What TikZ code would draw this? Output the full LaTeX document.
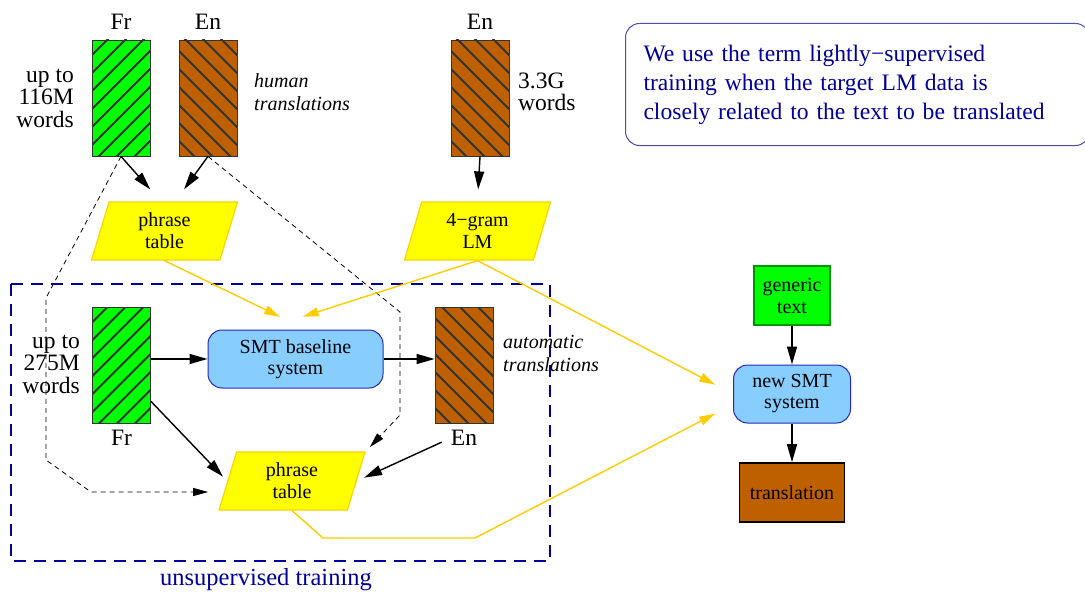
\documentclass[tikz,border=0pt]{standalone}
\usepackage{fontspec}
\setmainfont{Liberation Serif}
\usetikzlibrary{shapes.geometric}
\usetikzlibrary{arrows.meta}
\usetikzlibrary{calc}
\definecolor{crpgreen}{RGB}{0,255,0}
\definecolor{crpbrown}{RGB}{191,96,0}
\definecolor{ptyellow}{RGB}{255,255,0}
\definecolor{ptgold}{RGB}{255,210,0}
\definecolor{flowgold}{RGB}{255,204,0}
\definecolor{sysblue}{RGB}{135,206,255}
\definecolor{sysedge}{RGB}{40,40,190}
\definecolor{gtxedge}{RGB}{0,150,0}
\definecolor{notenavy}{RGB}{0,0,150}
\tikzset{fig/.style={
  x=1pt,
  y=-1pt
}}
\tikzset{crp/.style={
  draw=black!80,
  line width=0.8pt,
  minimum width=58pt,
  minimum height=116pt,
  inner sep=0pt,
}}
\tikzset{frc/.style={
  crp,
  fill=crpgreen,
  path picture={
    \foreach \k in {-6,...,6}
      \draw[line width=1.8pt] ($(path picture bounding box.center)+(\k*18-80,80)$) -- ++(160,-160);
  },
}}
\tikzset{enc/.style={
  crp,
  fill=crpbrown,
  path picture={
    \foreach \k in {-6,...,6}
      \draw[line width=1.8pt] ($(path picture bounding box.center)+(\k*18-80,-80)$) -- ++(160,160);
  },
}}
\tikzset{lbl/.style={
  inner sep=0pt,
  align=center,
  font=\fontsize{23.5}{22.5}\selectfont,
}}
\tikzset{cmt/.style={
  lbl,
  align=left,
  font=\fontsize{20}{23}\selectfont\itshape,
}}
\tikzset{ptb/.style={
  trapezium,
  trapezium left angle=64,
  trapezium right angle=116,
  trapezium stretches body,
  draw=ptgold,
  fill=ptyellow,
  line width=1.2pt,
  minimum width=146pt,
  minimum height=58pt,
  inner sep=0pt,
  align=center,
  font=\fontsize{20}{22}\selectfont,
}}
\tikzset{sys/.style={
  draw=sysedge,
  fill=sysblue,
  rounded corners=14pt,
  line width=1pt,
  inner sep=0pt,
  align=center,
  font=\fontsize{20}{21}\selectfont,
}}
\tikzset{gtx/.style={
  draw=gtxedge,
  fill=crpgreen,
  line width=1.2pt,
  minimum width=76pt,
  minimum height=59pt,
  inner sep=0pt,
  align=center,
  font=\fontsize{20}{22}\selectfont,
}}
\tikzset{trn/.style={
  gtx,
  draw=black,
  line width=1.6pt,
  fill=crpbrown,
  minimum width=105pt,
}}
\tikzset{box/.style={
  draw=notenavy!70,
  rounded corners=14pt,
  line width=1pt,
  text=notenavy,
  text width=428pt,
  inner xsep=18pt,
  minimum height=122pt,
  align=left,
  font=\fontsize{23.6}{29}\selectfont,
}}
\tikzset{arr/.style={
  -{Triangle[length=18pt,width=10pt]},
  line width=1.4pt,
}}
\tikzset{flow/.style={
  arr,
  draw=flowgold,
  -{Triangle[length=16pt,width=9pt,fill=flowgold]},
}}
\tikzset{dsh/.style={
  -{Triangle[length=15pt,width=8pt]},
  line width=0.8pt,
  dash pattern=on 5pt off 4pt,
}}
\tikzset{frame/.style={
  draw=notenavy,
  line width=1.6pt,
  dash pattern=on 12pt off 8pt,
}}

\begin{document}
\begin{tikzpicture}[fig]
    \useasboundingbox (0,0) rectangle (1085,594);

    %% Training data at the top

    % Human translated bitext
    \node[frc] (frA) at (121,98) {};
    \node[enc] (enA) at (208,98) {};
    \node[lbl] (frAt) at (121,22) {Fr};
    \node[lbl] (enAt) at (208,22) {En};
    \node[lbl,align=right,anchor=east] (frAw) at (74,98) {up to\\116M\\words};
    \node[cmt,anchor=west] (enAw) at (254,92) {human\\translations};
    \node[ptb] (ptA) at (164.5,231) {phrase\\table};
    \draw[arr,shorten >=16pt] (frA.south) -- (ptA.97);
    \draw[arr,shorten >=15pt] (enA.south) -- (ptA.70);

    % Monolingual English
    \node[enc] (enB) at (480,98) {};
    \node[lbl] (enBt) at (480,22) {En};
    \node[lbl,align=left,anchor=west] (enBw) at (518,92) {3.3G\\words};
    \node[ptb] (lm) at (477.5,231) {4−gram\\LM};
    \draw[arr,shorten >=12pt] (enB.south) -- (lm.north);

    % Note
    \node[box,anchor=north west] (note) at (625,23)
      {We use the term lightly−supervised\\training when the target LM data is\\closely related to the text to be translated};

    %% Unsupervised training

    \draw[frame] (11,284) rectangle (550,561);
    \node[lbl,text=notenavy,font=\fontsize{24.5}{26}\selectfont] (unsup) at (266,580) {unsupervised training};

    \node[frc] (frB) at (121.5,365) {};
    \node[lbl] (frBt) at (121.5,438) {Fr};
    \node[lbl,align=right,anchor=east] (frBw) at (80,364) {up to\\275M\\words};
    \node[sys,minimum width=175pt,minimum height=58pt] (smt) at (295.5,359) {SMT baseline\\system};
    \node[enc] (enC) at (464,365) {};
    \node[lbl] (enCt) at (464,438) {En};
    \node[cmt,anchor=west] (enCw) at (503,353) {automatic\\translations};
    \node[ptb] (ptB) at (292,481) {phrase\\table};

    \draw[arr] (frB.east |- smt.west) -- (smt.west);
    \draw[arr] (smt.east) -- (smt.east -| enC.west);
    \draw[arr,shorten >=6pt] (frB.-51) -- (ptB.west);
    \draw[arr,shorten <=10pt,shorten >=8pt] (enCt.west) -- (ptB.east);

    % Dashed feeds from the bitext
    \coordinate (dl1) at (46,298);
    \coordinate (dl2) at (46,460);
    \coordinate (dl3) at (91,492);
    \draw[dsh,shorten >=19pt] (frA.south) -- (dl1) -- (dl2) -- (dl3) -- (dl3 -| ptB.west);
    \coordinate (dr1) at (400,312);
    \coordinate (dr2) at (400,415);
    \draw[dsh,shorten >=6pt] (enA.south) -- (dr1) -- (dr2) -- (ptB.top right corner);

    % Models into the systems
    \draw[flow,shorten >=29pt] (ptA.south) -- (smt.70);
    \draw[flow,shorten >=42pt] (lm.south) -- (smt.138);

    %% New system

    \node[gtx] (gen) at (792,295.5) {generic\\text};
    \node[sys,minimum width=117pt,minimum height=58pt] (newsmt) at (792,394) {new SMT\\system};
    \node[trn] (trans) at (792,492.5) {translation};
    \draw[arr] (gen) -- (newsmt);
    \draw[arr] (newsmt) -- (trans);

    \draw[flow,shorten >=20pt] (lm.south) -- (newsmt.west);
    \coordinate (yl1) at (323,538);
    \coordinate (yl2) at (475,538);
    \draw[flow,shorten >=20pt] (ptB.south) -- (yl1) -- (yl2) -- (newsmt.190);

  \end{tikzpicture}
\end{document}
